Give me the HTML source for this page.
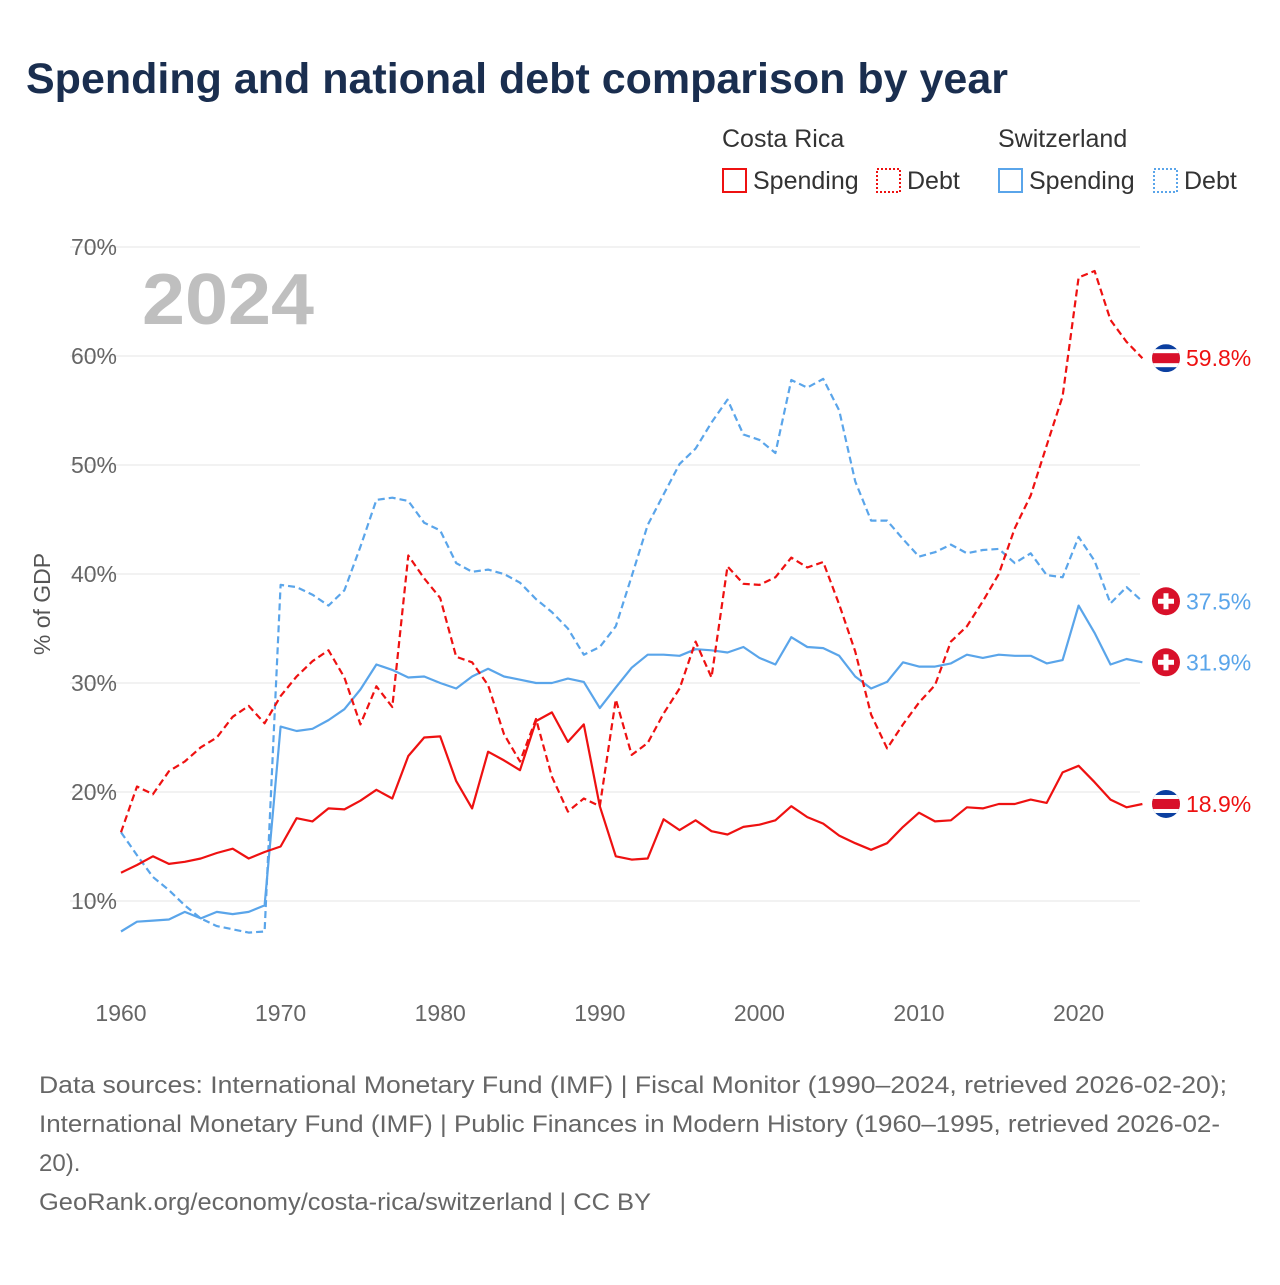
<!DOCTYPE html>
<html><head><meta charset="utf-8"><style>
body{margin:0;background:#fff;font-family:"Liberation Sans",sans-serif;}
svg text{font-family:"Liberation Sans",sans-serif;}
</style></head><body>
<svg id="chart" width="1280" height="1280" viewBox="0 0 1280 1280" xmlns="http://www.w3.org/2000/svg">
<rect width="1280" height="1280" fill="#fff"/>
<text x="26" y="93" font-size="43" font-weight="bold" fill="#1a2e4f" textLength="982" lengthAdjust="spacingAndGlyphs">Spending and national debt comparison by year</text>
<g font-size="25" fill="#333">
<text x="722" y="147">Costa Rica</text>
<text x="998" y="147">Switzerland</text>
<g><rect x="723" y="169" width="23" height="23" fill="none" stroke="#ee1111" stroke-width="2"/><text x="753" y="189">Spending</text></g>
<g><rect x="877" y="169" width="23" height="23" fill="none" stroke="#ee1111" stroke-width="2" stroke-dasharray="2,2"/><text x="907" y="189">Debt</text></g>
<g><rect x="999" y="169" width="23" height="23" fill="none" stroke="#5aa5ea" stroke-width="2"/><text x="1029" y="189">Spending</text></g>
<g><rect x="1154" y="169" width="23" height="23" fill="none" stroke="#5aa5ea" stroke-width="2" stroke-dasharray="2,2"/><text x="1184" y="189">Debt</text></g>
</g>
<g id="grid"></g>
<g id="yticks"></g>
<g id="xticks"></g>
<text transform="translate(50,604) rotate(-90)" text-anchor="middle" font-size="23" fill="#555">% of GDP</text>
<text x="142" y="324" font-size="72" font-weight="bold" fill="#bfbfbf" textLength="172" lengthAdjust="spacingAndGlyphs">2024</text>
<g id="series"></g>
<g id="endlabels"></g>
<g font-size="24" fill="#666">
<text x="39" y="1093" textLength="1188" lengthAdjust="spacingAndGlyphs">Data sources: International Monetary Fund (IMF) | Fiscal Monitor (1990–2024, retrieved 2026-02-20);</text>
<text x="39" y="1132" textLength="1181" lengthAdjust="spacingAndGlyphs">International Monetary Fund (IMF) | Public Finances in Modern History (1960–1995, retrieved 2026-02-</text>
<text x="39" y="1171">20).</text>
<text x="39" y="1210" textLength="612" lengthAdjust="spacingAndGlyphs">GeoRank.org/economy/costa-rica/switzerland | CC BY</text>
</g>
</svg>
<script>
const years = [];for(let y=1960;y<=2024;y++)years.push(y);
const crSpending=[12.6,13.3,14.1,13.4,13.6,13.9,14.4,14.8,13.9,14.5,15.0,17.6,17.3,18.5,18.4,19.2,20.2,19.4,23.3,25.0,25.1,21.0,18.5,23.7,22.9,22.0,26.5,27.3,24.6,26.2,18.7,14.1,13.8,13.9,17.5,16.5,17.4,16.4,16.1,16.8,17.0,17.4,18.7,17.7,17.1,16.0,15.3,14.7,15.3,16.8,18.1,17.3,17.4,18.6,18.5,18.9,18.9,19.3,19.0,21.8,22.4,20.9,19.3,18.6,18.9];
const crDebt=[16.3,20.5,19.8,21.9,22.8,24.1,25.0,26.9,27.9,26.3,28.8,30.6,32.0,33.0,30.5,26.2,29.7,27.8,41.7,39.6,37.8,32.4,31.9,29.8,25.3,22.8,26.7,21.4,18.2,19.4,18.7,28.5,23.4,24.5,27.2,29.5,33.8,30.5,40.7,39.1,39.0,39.7,41.5,40.6,41.1,37.2,32.9,27.1,24.0,26.2,28.2,29.8,33.8,35.2,37.5,40.0,44.2,47.2,51.8,56.3,67.2,67.8,63.3,61.3,59.8];
const chSpending=[7.2,8.1,8.2,8.3,9.0,8.4,9.0,8.8,9.0,9.6,26.0,25.6,25.8,26.6,27.6,29.4,31.7,31.2,30.5,30.6,30.0,29.5,30.6,31.3,30.6,30.3,30.0,30.0,30.4,30.1,27.7,29.6,31.4,32.6,32.6,32.5,33.1,33.0,32.8,33.3,32.3,31.7,34.2,33.3,33.2,32.5,30.6,29.5,30.1,31.9,31.5,31.5,31.8,32.6,32.3,32.6,32.5,32.5,31.8,32.1,37.1,34.6,31.7,32.2,31.9];
const chDebt=[16.3,14.2,12.2,11.0,9.6,8.4,7.7,7.4,7.1,7.2,39.0,38.8,38.1,37.1,38.5,42.5,46.8,47.0,46.7,44.7,44.0,41.0,40.2,40.4,40.0,39.2,37.7,36.5,35.0,32.6,33.3,35.2,39.8,44.5,47.3,50.1,51.5,53.9,56.0,52.8,52.3,51.1,57.8,57.1,57.9,55.0,48.5,44.9,44.9,43.2,41.6,42.0,42.7,41.9,42.2,42.3,41.0,41.9,39.9,39.7,43.4,41.2,37.3,38.8,37.5];
const yTicks=[10,20,30,40,50,60,70];
const xTicks=[1960,1970,1980,1990,2000,2010,2020];
const NS="http://www.w3.org/2000/svg";
const x=yr=>121+(yr-1960)*15.96;
const y=v=>901-(v-10)*10.9;
function mk(tag,attrs,parent){const e=document.createElementNS(NS,tag);for(const k in attrs)e.setAttribute(k,attrs[k]);parent.appendChild(e);return e;}
const grid=document.getElementById('grid'),yt=document.getElementById('yticks'),xt=document.getElementById('xticks');
yTicks.forEach(v=>{
 const l=mk('line',{x1:70,x2:1140,y1:y(v),y2:y(v),stroke:'#e6e6e6','stroke-width':1},grid);
 
 
 const t=mk('text',{x:117,y:y(v)+8,'text-anchor':'end','font-size':23,fill:'#666'},yt);
 t.textContent=v+'%';
 
 
});
xTicks.forEach(v=>{
 const t=mk('text',{x:x(v),y:1021,'text-anchor':'middle','font-size':23,fill:'#666'},xt);
 t.textContent=v;
 
 
});
const ser=document.getElementById('series');
function line(vals,color,dash,name){
 const d=vals.map((v,i)=>(i?'L':'M')+x(years[i]).toFixed(1)+','+y(v).toFixed(1)).join('');
 const p=mk('path',{d:d,fill:'none',stroke:color,'stroke-width':2.2,'stroke-linejoin':'round'},ser);
 if(dash)p.setAttribute('stroke-dasharray','7,4');
 
 
}
line(chDebt,'#5aa5ea',true,'line-ch-debt');
line(chSpending,'#5aa5ea',false,'line-ch-spending');
line(crDebt,'#ee1111',true,'line-cr-debt');
line(crSpending,'#ee1111',false,'line-cr-spending');
const el=document.getElementById('endlabels');
function flag(v,country,color,name){
 const cx=1166,cy=y(v);
 const g=mk('g',{},el);
 
 
 if(country==='cr'){
  mk('clipPath',{id:'c'+name},g);
  const cp=g.lastChild;mk('circle',{cx:cx,cy:cy,r:14},cp);
  const gg=mk('g',{'clip-path':'url(#c'+name+')'},g);
  mk('rect',{x:cx-14,y:cy-14,width:28,height:28,fill:'#0b3fa0'},gg);
  mk('rect',{x:cx-14,y:cy-9,width:28,height:18,fill:'#fff'},gg);
  mk('rect',{x:cx-14,y:cy-5,width:28,height:10,fill:'#d8102a'},gg);
 }else{
  mk('circle',{cx:cx,cy:cy,r:14,fill:'#d8102a'},g);
  mk('rect',{x:cx-2.5,y:cy-8,width:5,height:16,fill:'#fff'},g);
  mk('rect',{x:cx-8,y:cy-2.5,width:16,height:5,fill:'#fff'},g);
 }
 const t=mk('text',{x:1186,y:cy+8,'font-size':23,fill:color},g);
 t.textContent=v.toFixed(1)+'%';
}
flag(crDebt[crDebt.length-1],'cr','#ee1111','end-label-cr-debt');
flag(chDebt[chDebt.length-1],'ch','#5aa5ea','end-label-ch-debt');
flag(chSpending[chSpending.length-1],'ch','#5aa5ea','end-label-ch-spending');
flag(crSpending[crSpending.length-1],'cr','#ee1111','end-label-cr-spending');
</script>
</body></html>
